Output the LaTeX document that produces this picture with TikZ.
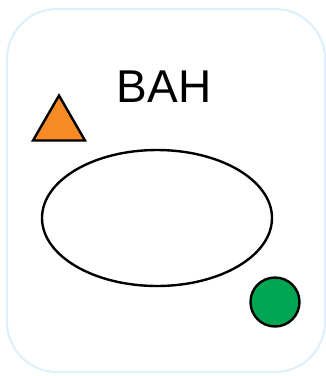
\documentclass[tikz,border=0pt]{standalone}
\usepackage{fontspec}
\setmainfont{Liberation Sans}
\usetikzlibrary{shapes.geometric}
\definecolor{frameblue}{HTML}{DCEFFC}
\definecolor{marker}{HTML}{F68B26}
\definecolor{dot}{HTML}{00A651}

\begin{document}
\begin{tikzpicture}[x=1pt, y=-1pt,
  frame/.style={draw=frameblue, line width=2pt, rounded corners=50pt},
  shapeline/.style={draw=black, line width=2.4pt},
  title/.style={font=\fontsize{46}{50}\selectfont, inner sep=0pt},
]
\useasboundingbox (0,0) rectangle (326,376);
\draw[frame] (7,9) rectangle (325,372);
\node[title] (lbl) at (164,87) {BAH};
\node[shapeline, fill=marker, regular polygon, regular polygon sides=3,
      minimum size=60pt, inner sep=0pt] (tri) at (59,125.5) {};
\node[shapeline, ellipse, minimum width=230pt, minimum height=136pt,
      inner sep=0pt] (oval) at (157,218) {};
\node[shapeline, fill=dot, circle, minimum size=49pt, inner sep=0pt] (spot) at (275,302) {};
\end{tikzpicture}
\end{document}
